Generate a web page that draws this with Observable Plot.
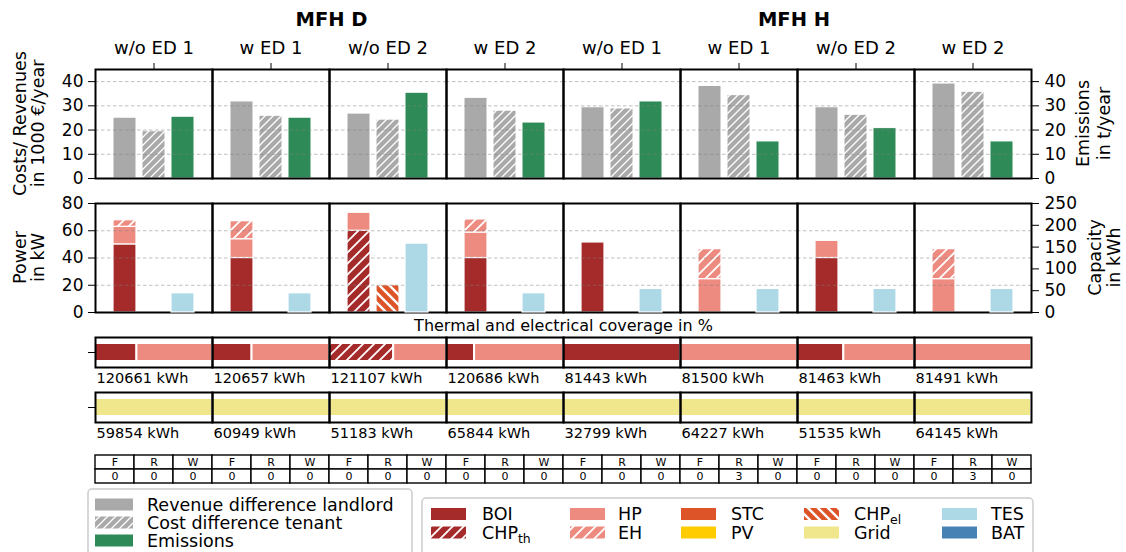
<!DOCTYPE html>
<html><head><meta charset="utf-8">
<script src="https://cdn.jsdelivr.net/npm/d3@7"></script>
<script src="https://cdn.jsdelivr.net/npm/@observablehq/plot@0.6"></script>
<style>
html,body{margin:0;padding:0;background:#fff;overflow:hidden;}
#chart{position:relative;width:1126px;height:552px;font-family:"DejaVu Sans",sans-serif;color:#000;overflow:hidden;background:#fff;}
</style></head><body><div id="chart"></div>
<script>
// ---------- data ----------
const buildings = ["MFH D", "MFH H"];
const scenarios = ["w/o ED 1", "w ED 1", "w/o ED 2", "w ED 2"];
const costSeries = ["Revenue difference landlord", "Cost difference tenant", "Emissions"];
// 1000 €/year and t/year
const revenueLandlord = [25.1, 31.8, 26.8, 33.3, 29.4, 38.2, 29.4, 39.2];
const costTenant      = [19.5, 25.9, 24.3, 28.0, 28.9, 34.4, 26.3, 35.8];
const emissions       = [25.5, 25.1, 35.4, 23.1, 31.8, 15.3, 20.8, 15.3];
// installed power in kW
const powerBOI   = [50, 40, 0, 40, 51.4, 0, 40, 0];
const powerCHPth = [0, 0, 60, 0, 0, 0, 0, 0];
const powerHP    = [12.9, 13.8, 13.2, 18.7, 0, 24.5, 12.6, 24.5];
const powerEH    = [4.8, 13.2, 0, 9.6, 0, 22, 0, 22];
const powerSTC   = [0, 0, 0, 0, 0, 0, 0, 0];
const powerCHPel = [0, 0, 20, 0, 0, 0, 0, 0];
const powerPV    = [0, 0, 0, 0, 0, 0, 0, 0];
// storage capacity in kWh
const capTES = [44, 44, 158, 44, 54, 54, 54, 54];
const capBAT = [0, 0, 0, 0, 0, 0, 0, 0];
// coverage in %
const covBOI   = [35.4, 33.8, 0, 24, 100, 0, 39.6, 0];
const covCHPth = [0, 0, 54.9, 0, 0, 0, 0, 0];
const covHP    = [64.6, 66.2, 45.1, 76, 0, 100, 60.4, 100];
const covGrid  = [100, 100, 100, 100, 100, 100, 100, 100];
const thermalDemand    = [120661, 120657, 121107, 120686, 81443, 81500, 81463, 81491];
const electricalDemand = [59854, 60949, 51183, 65844, 32799, 64227, 51535, 64145];
// table
const tableHeads = ["F", "R", "W"];
const tableF = [0, 0, 0, 0, 0, 0, 0, 0];
const tableR = [0, 0, 0, 0, 0, 3, 0, 3];
const tableW = [0, 0, 0, 0, 0, 0, 0, 0];

// ---------- styles ----------
const C = {grey:"#a9a9a9", green:"#2e8b57", BOI:"#a52a2a", HP:"#ed8b80", STC:"#dc5428", PV:"#ffcc00", Grid:"#f0e68c", TES:"#add8e6", BAT:"#4682b4"};
function hatch(id, bg, p, w, dir) {
  const d = dir === "/"
    ? `M${-p/2},${p/2} L${p/2},${-p/2} M0,${p} L${p},0 M${p/2},${3*p/2} L${3*p/2},${p/2}`
    : `M${-p/2},${p/2} L${p/2},${3*p/2} M0,0 L${p},${p} M${p/2},${-p/2} L${3*p/2},${p/2}`;
  return `<pattern id="${id}" patternUnits="userSpaceOnUse" width="${p}" height="${p}"><rect width="${p}" height="${p}" fill="${bg}"/><path d="${d}" stroke="white" stroke-width="${w}"/></pattern>`;
}
const chart = document.getElementById("chart");
chart.insertAdjacentHTML("beforeend",
  `<svg width="0" height="0" style="position:absolute;left:0;top:0"><defs>
   ${hatch("hGrey", C.grey, 8, 1.3, "/")}
   ${hatch("hCHPth", C.BOI, 11, 1.8, "/")}
   ${hatch("hEH", C.HP, 11, 1.8, "/")}
   ${hatch("hCHPel", C.STC, 10, 2.4, "\\")}
   </defs></svg>`);

const techColor = {BOI:C.BOI, CHPth:"url(#hCHPth)", HP:C.HP, EH:"url(#hEH)", STC:C.STC, CHPel:"url(#hCHPel)", PV:C.PV, Grid:C.Grid, TES:C.TES, BAT:C.BAT};
const techs = Object.keys(techColor);

const cols = buildings.flatMap(b => scenarios.map(s => `${b}|${s}`));
const colLabel = k => k.split("|")[1];
const W = 1126, ML = 95, MR = 95, FS = 17;
const FONT = "DejaVu Sans";
const base = (top) => ({position:"absolute", left:"0px", top: top + "px", background:"transparent", overflow:"visible", fontFamily:FONT, fontSize:FS + "px", color:"black"});
const grid = ticks => Plot.gridY(ticks, {y: d => d, stroke:"#808080", strokeOpacity:0.5, strokeWidth:1, strokeDasharray:"3.5,2.5"});
const axY = (anchor, ticks) => Plot.axisY({anchor, ticks, tickSize:7, tickPadding: anchor === "left" ? 5 : 6, label:null, fontSize:FS, fontFamily:FONT});

// ---------- top panel: costs / emissions ----------
const topData = cols.flatMap((c, i) => [
  {col:c, series:costSeries[0], value:revenueLandlord[i]},
  {col:c, series:costSeries[1], value:costTenant[i]},
  {col:c, series:costSeries[2], value:emissions[i]}
]);
const p1 = Plot.plot({
  width: W, height: 180, marginLeft: ML, marginRight: MR, marginTop: 69, marginBottom: 2,
  style: base(0),
  fx: {domain: cols, padding: 0, label: null},
  x: {domain: costSeries, paddingInner: 0.2, paddingOuter: 0.6, axis: null},
  y: {domain: [0, 45], label: null},
  color: {domain: costSeries, range: [C.grey, "url(#hGrey)", C.green]},
  marks: [
    Plot.barY(topData, {fx:"col", x:"series", y:"value", fill:"series", stroke:"white", strokeWidth:1}),
    grid([10, 20, 30, 40]),
    Plot.frame({stroke:"black", strokeWidth:2}),
    axY("left", [0,10,20,30,40]),
    axY("right", [0,10,20,30,40]),
    Plot.axisFx({anchor:"top", tickSize:7, tickPadding:9, label:null, tickFormat: colLabel, fontSize:18, fontFamily:FONT})
  ]
});
chart.appendChild(p1);

// ---------- middle panel: power (kW) and capacity (kWh) ----------
const positions = ["thermal", "electrical", "storage"];
const powerTechs = [["BOI",powerBOI,"thermal"],["CHPth",powerCHPth,"thermal"],["HP",powerHP,"thermal"],["EH",powerEH,"thermal"],
                    ["STC",powerSTC,"electrical"],["CHPel",powerCHPel,"electrical"],["PV",powerPV,"electrical"]];
const powerData = cols.flatMap((c, i) => powerTechs.map(([t, arr, pos]) => ({col:c, pos, tech:t, value:arr[i]}))).filter(d => d.value > 0);
const storageData = cols.flatMap((c, i) => [["TES",capTES],["BAT",capBAT]].map(([t, arr]) => ({col:c, pos:"storage", tech:t, value:arr[i]}))).filter(d => d.value > 0);
const midCommon = {
  width: W, height: 130, marginLeft: ML, marginRight: MR, marginTop: 13, marginBottom: 8,
  fx: {domain: cols, padding: 0, axis: null},
  x: {domain: positions, paddingInner: 0.2, paddingOuter: 0.6, axis: null},
  color: {domain: techs, range: techs.map(t => techColor[t])}
};
const p2 = Plot.plot({
  ...midCommon, style: base(190),
  y: {domain: [0, 80], label: null},
  marks: [
    Plot.barY(powerData, {fx:"col", x:"pos", y:"value", fill:"tech", stroke:"white", strokeWidth:1.2}),
    grid([20, 40, 60]),
    Plot.frame({stroke:"black", strokeWidth:2}),
    axY("left", [0,20,40,60,80])
  ]
});
chart.appendChild(p2);
const p2b = Plot.plot({
  ...midCommon, style: base(190),
  y: {domain: [0, 250], label: null},
  marks: [
    Plot.barY(storageData, {fx:"col", x:"pos", y:"value", fill:"tech", stroke:"white", strokeWidth:1.2}),
    axY("right", [0,50,100,150,200,250])
  ]
});
chart.appendChild(p2b);

// ---------- coverage rows ----------
const covRows = ["thermal", "electrical"];
const covData = cols.flatMap((c, i) => [
  {col:c, row:"thermal", tech:"BOI", value:covBOI[i]},
  {col:c, row:"thermal", tech:"CHPth", value:covCHPth[i]},
  {col:c, row:"thermal", tech:"HP", value:covHP[i]},
  {col:c, row:"electrical", tech:"Grid", value:covGrid[i]}
]).filter(d => d.value > 0);
const covLabels = cols.flatMap((c, i) => [
  {col:c, row:"thermal", label:`${thermalDemand[i]} kWh`},
  {col:c, row:"electrical", label:`${electricalDemand[i]} kWh`}
]);
const p3 = Plot.plot({
  width: W, height: 115, marginLeft: ML, marginRight: MR, marginTop: 7, marginBottom: 23,
  style: base(330),
  fx: {domain: cols, padding: 0, axis: null},
  fy: {domain: covRows, paddingInner: 25/55, paddingOuter: 0, axis: null},
  x: {domain: [0, 100], axis: null},
  color: {domain: techs, range: techs.map(t => techColor[t])},
  marks: [
    Plot.barX(covData, {fx:"col", fy:"row", x:"value", fill:"tech", stroke:"white", strokeWidth:2, insetTop:6, insetBottom:6}),
    Plot.frame({stroke:"black", strokeWidth:2}),
    Plot.text(covLabels, {fx:"col", fy:"row", text:"label", frameAnchor:"bottom-left", textAnchor:"start", lineAnchor:"middle", dx:1, dy:11, fontSize:14.5, fontFamily:FONT}),
    Plot.axisFy({anchor:"left", tickSize:7, tickFormat: () => "", label:null})
  ]
});
chart.appendChild(p3);

// ---------- table ----------
const tableValues = [tableF, tableR, tableW];
const tableCells = cols.flatMap((c, i) => tableHeads.flatMap((h, j) => [
  {key:`${c}|${h}`, row:"head", text:h},
  {key:`${c}|${h}`, row:"value", text:String(tableValues[j][i])}
]));
const p4 = Plot.plot({
  width: W, height: 40, marginLeft: ML, marginRight: MR, marginTop: 5, marginBottom: 7,
  style: base(450),
  x: {domain: cols.flatMap(c => tableHeads.map(h => `${c}|${h}`)), padding: 0, axis: null},
  y: {domain: ["head", "value"], padding: 0, axis: null},
  marks: [
    Plot.cell(tableCells, {x:"key", y:"row", fill:"white", stroke:"black", strokeWidth:1.4}),
    Plot.text(tableCells, {x:"key", y:"row", text:"text", fontSize:11, fontFamily:FONT})
  ]
});
chart.appendChild(p4);

// ---------- annotations & legends ----------
const ann = d3.create("svg").attr("width", W).attr("height", 552)
  .style("position", "absolute").style("left", "0px").style("top", "0px")
  .attr("font-family", FONT).attr("fill", "black");
ann.append("text").attr("x", 331.5).attr("y", 26).attr("text-anchor", "middle").attr("font-weight", "bold").attr("font-size", 19.5).text(buildings[0]);
ann.append("text").attr("x", 794).attr("y", 26).attr("text-anchor", "middle").attr("font-weight", "bold").attr("font-size", 19.5).text(buildings[1]);
function vtext(x, y, s) {
  ann.append("text").attr("transform", `translate(${x},${y}) rotate(-90)`).attr("text-anchor", "middle")
    .attr("dominant-baseline", "central").attr("font-size", 17.5).text(s);
}
vtext(19.5, 123.5, "Costs/ Revenues"); vtext(37.5, 123.5, "in 1000 €/year");
vtext(19.5, 257.5, "Power"); vtext(37.5, 257.5, "in kW");
vtext(1083, 123.5, "Emissions"); vtext(1104, 123.5, "in t/year");
vtext(1095, 257.5, "Capacity"); vtext(1114, 257.5, "in kWh");
ann.append("text").attr("x", 563.5).attr("y", 325).attr("text-anchor", "middle").attr("dominant-baseline", "central")
  .attr("font-size", 16).text("Thermal and electrical coverage in %");

function legendBox(x, y, w, h) {
  ann.append("rect").attr("x", x).attr("y", y).attr("width", w).attr("height", h).attr("rx", 4)
    .attr("fill", "white").attr("fill-opacity", 0.8).attr("stroke", "#cccccc").attr("stroke-width", 1.5);
}
function legendItem(sx, sw, cy, fill, tx, label, sub) {
  ann.append("rect").attr("x", sx).attr("y", cy - 6).attr("width", sw).attr("height", 12).attr("fill", fill);
  const t = ann.append("text").attr("x", tx).attr("y", cy).attr("dominant-baseline", "central").attr("font-size", 17.5).text(label);
  if (sub) t.append("tspan").attr("font-size", 12.5).attr("dy", 5).text(sub);
}
legendBox(88, 489, 324, 80);
const legend1Fill = [C.grey, "url(#hGrey)", C.green];
costSeries.forEach((s, i) => legendItem(95, 38, 504.5 + 18 * i, legend1Fill[i], 147, s));

legendBox(422, 498, 611, 80);
const legend2 = [
  [["BOI", "BOI"], ["CHPth", "CHP", "th"]],
  [["HP", "HP"], ["EH", "EH"]],
  [["STC", "STC"], ["PV", "PV"]],
  [["CHPel", "CHP", "el"], ["Grid", "Grid"]],
  [["TES", "TES"], ["BAT", "BAT"]]
];
const l2sx = [431, 570, 681, 804, 942], l2tx = [482, 618, 731, 854, 991];
legend2.forEach((colItems, ci) => colItems.forEach(([t, lab, sub], ri) =>
  legendItem(l2sx[ci], 35, 514 + 18.5 * ri, techColor[t], l2tx[ci], lab, sub)));
chart.appendChild(ann.node());
</script></body></html>
